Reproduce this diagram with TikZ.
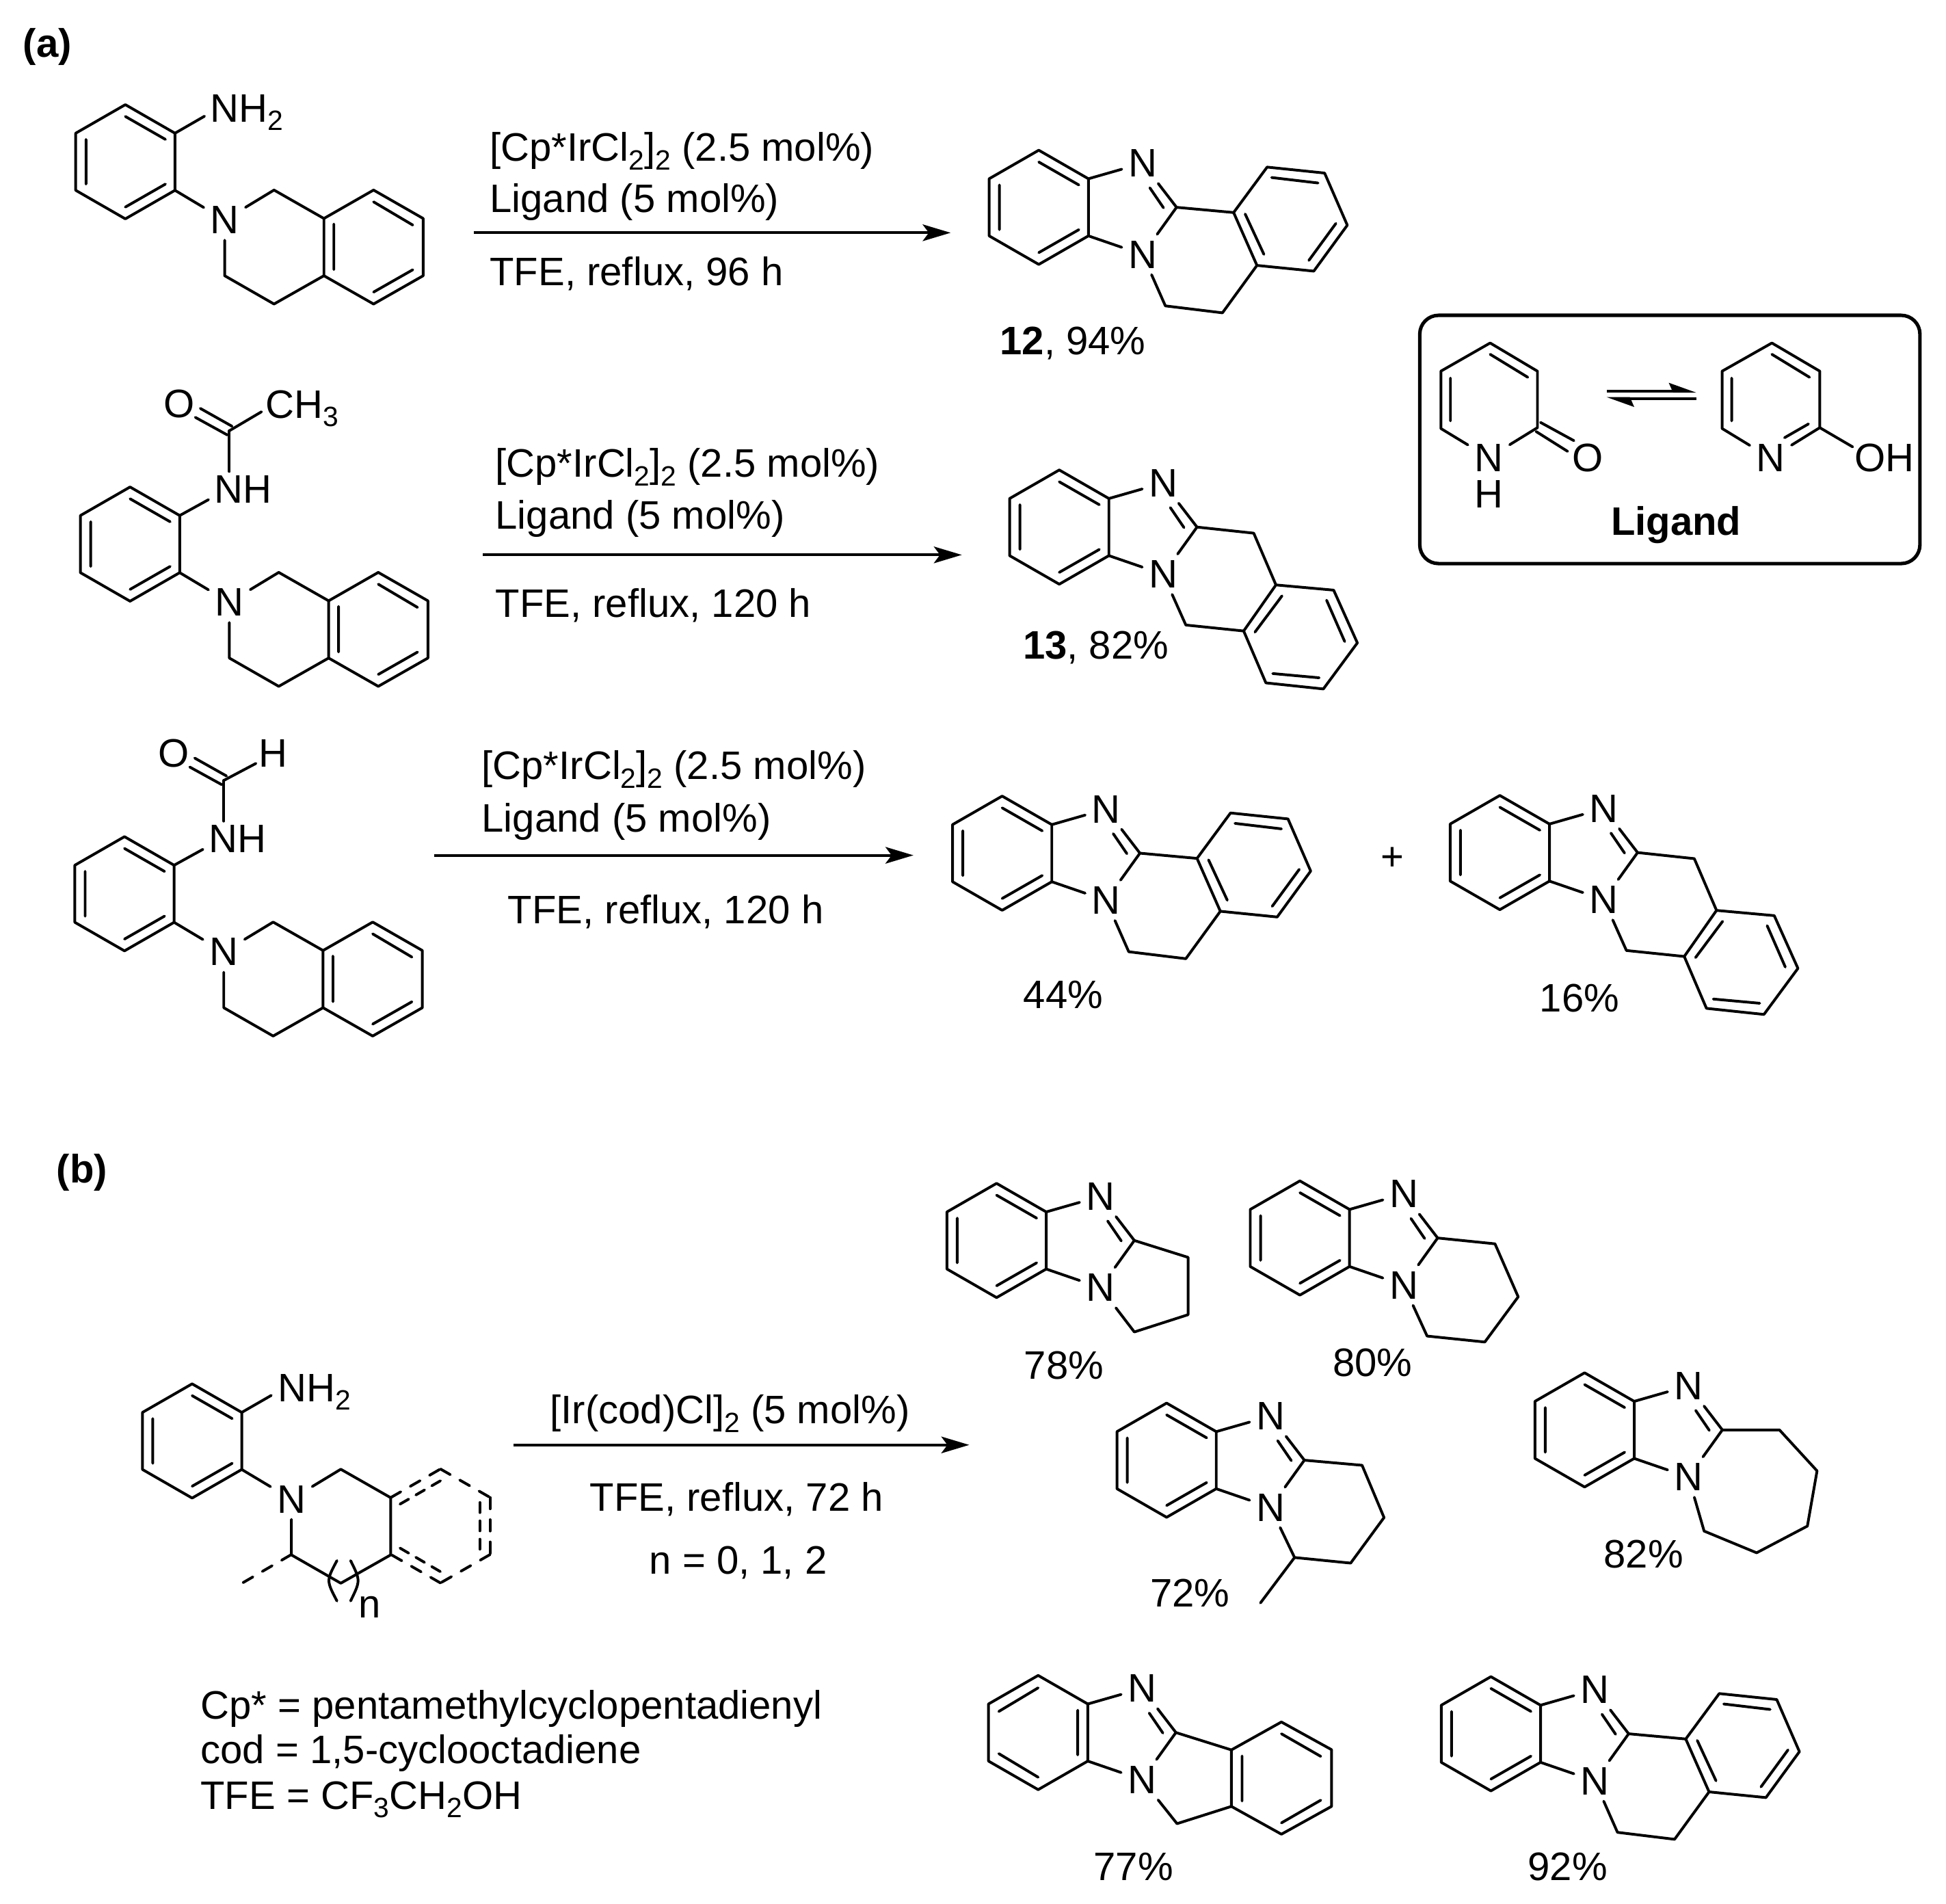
\documentclass[tikz,border=0pt]{standalone}
\usepackage{fontspec}
\setmainfont{Liberation Sans}
\usetikzlibrary{arrows.meta}
\tikzset{>={Stealth[length=6.4pt,width=3.8pt,inset=1.4pt]}}
\tikzset{
	bond/.style={line width=.62pt,line cap=round,line join=round},
	dashbond/.style={bond,dash pattern=on 2.6pt off 2.5pt},
	dashinner/.style={bond,dash pattern=on 2.3pt off 1.9pt},
	atom/.style={font=\fontsize{9.1}{11}\selectfont,inner sep=1.5pt,outer sep=0pt},
	txt/.style={font=\fontsize{9.1}{11}\selectfont,inner sep=0pt,anchor=base west},
	rxn/.style={line width=.65pt,->},
	eqm/.style={line width=.6pt,-{Stealth[length=5.4pt,width=3.8pt,inset=.8pt,left]}},
	ligbox/.style={line width=.8pt,rounded corners=4.3pt},
}
\newcommand{\subs}[1]{\raisebox{-1.9pt}{\fontsize{6.4}{7}\selectfont #1}}
% benzene ring, drawn round the origin of a scope
\newcommand{\benzoring}{\draw[bond] (0,-46) -- (40,-23) -- (40,23) -- (0,46) -- (-40,23) -- (-40,-23) -- cycle;}
\newcommand{\benzodbl}{\draw[bond] (-31.7,-18) -- (-31.7,18) (0,-36.5) -- (32.3,-18) (0,36.5) -- (32.3,18);}
\newcommand{\benzodblalt}{\draw[bond] (31.9,-18) -- (31.9,18) (0,-36) -- (-31.7,-17) (0,36) -- (-31.7,17);}
% benzimidazole: #1 inner bonds, #2 name, #3 centre of the benzene ring
\newcommand{\benzimcore}[3][\benzodbl]{
	\begin{scope}[shift={(#3)}]
		\benzoring
		#1
		\coordinate (#2ur) at (40,-23);
		\coordinate (#2lr) at (40,23);
		\coordinate (#2c) at (111,0);
		\node[atom] (#2na) at (83.7,-35.5) {N};
		\node[atom] (#2nb) at (83.7,38) {N};
		\draw[bond] (#2ur) -- (#2na);
		\draw[bond] (#2lr) -- (#2nb);
		\draw[bond] (#2na) -- (#2c) -- (#2nb);
		\draw[bond] (89.5,-15.7) -- (100.5,.4);
	\end{scope}
}
% fused dihydroisoquinoline, as in 12
\newcommand{\fusedaryl}[1]{
	\begin{scope}[shift={(#1c)}]
		\draw[bond] (#1c) -- (46,4.2) -- (73,-32.4) -- (119.3,-27.6) -- (137.6,14.4) -- (110.6,51.4) -- (64.8,46.8) -- (46,4.2);
		\draw[bond] (64.8,46.8) -- (37,85) -- (-9,79.4) -- (#1nb);
		\draw[bond] (76.6,-24) -- (114,-19.6) (128.4,13) -- (106.6,42.8) (55.3,5.4) -- (70.4,37.9);
	\end{scope}
}
% fused isomer with two CH2 groups, as in 13
\newcommand{\fusedbenzyl}[1]{
	\begin{scope}[shift={(#1c)}]
		\draw[bond] (#1c) -- (45.7,4.9) -- (63.6,46.6) -- (110.1,50.8) -- (129.2,93.3) -- (101.8,130.4) -- (55.5,125.5) -- (37.6,83.7) -- (63.6,46.6);
		\draw[bond] (37.6,83.7) -- (-9,78.9) -- (#1nb);
		\draw[bond] (68.5,55.4) -- (46.7,84.6) (104.4,58.9) -- (119,92.2) (98.4,121.4) -- (61,118);
	\end{scope}
}
% aniline ring with the saturated N ring
\newcommand{\substrate}[2]{
	\begin{scope}[shift={(#2)}]
		\benzoring
		\benzodbl
		\coordinate (#1ur) at (40,-23);
		\coordinate (#1lr) at (40,23);
		\coordinate (#1a) at (119.8,22.8);
		\coordinate (#1b) at (160,45.7);
		\coordinate (#1c) at (160,91.8);
		\coordinate (#1d) at (119.8,114.6);
		\coordinate (#1e) at (80,91.8);
		\node[atom] (#1n) at (80,46.9) {N};
		\draw[bond] (#1lr) -- (#1n);
		\draw[bond] (#1n) -- (#1a) -- (#1b) -- (#1c) -- (#1d) -- (#1e) -- (#1n);
	\end{scope}
}
\newcommand{\subarene}[2]{
	\begin{scope}[shift={(#2)}]
		\draw[bond] (#1b) -- (200,22.8) -- (240,45.7) -- (240,91.8) -- (200,114.6) -- (#1c);
		\draw[bond] (168,50.2) -- (168,86.9) (200,32.3) -- (231.6,51) (200,105) -- (231.6,87);
	\end{scope}
}
% amide on the free ortho position
\newcommand{\subacyl}[2]{
	\begin{scope}[shift={(#2)}]
		\coordinate (#1co) at (80,-91.3);
		\node[atom,inner sep=1pt] (#1nh) at (91,-44) {NH};
		\node[atom] (#1o) at (39.8,-113) {O};
		\draw[bond] (#1ur) -- ++(23.2,-12.8);
		\draw[bond] (#1co) -- (#1co |- #1nh.north);
		\draw[bond] (82.2,-94.9) -- (56.6,-109.3) (78.4,-87.9) -- (52.6,-102.1);
	\end{scope}
}

\begin{document}
\begin{tikzpicture}[x=.01cm,y=-.01cm]
	\useasboundingbox (0,0) rectangle (1568,1533.8);

	\node[txt] (lba) at (18,45.8) {\textbf{(a)}};
	\node[txt] (lbb) at (45,953) {\textbf{(b)}};

	% Row 1
	\substrate{sa}{101,130.3}
	\subarene{sa}{101,130.3}
	\draw[bond] (saur) -- ++(23.8,-13.7);
	\node[txt] (saamine) at (168.5,98.5) {NH\subs{2}};
	\draw[rxn] (381.8,187.5) -- (766,187.5);
	\node[txt] (racat) at (394,130) {[Cp*IrCl\subs{2}]\subs{2} (2.5 mol\%)};
	\node[txt] (ralig) at (394,171.3) {Ligand (5 mol\%)};
	\node[txt] (racond) at (394,229.8) {TFE, reflux, 96 h};
	\benzimcore{pa}{837,167}
	\fusedaryl{pa}
	\node[txt] (ya) at (805,285.9) {\textbf{12}, 94\%};

	% Row 2
	\substrate{sb}{104.8,438.3}
	\subarene{sb}{104.8,438.3}
	\subacyl{sb}{104.8,438.3}
	\draw[bond] (sbco) -- ++(25.9,-15.3);
	\node[txt] (sbme) at (213.3,336.9) {CH\subs{3}};
	\draw[rxn] (389,447) -- (775,447);
	\node[txt] (rbcat) at (398.5,384.5) {[Cp*IrCl\subs{2}]\subs{2} (2.5 mol\%)};
	\node[txt] (rblig) at (398.5,426) {Ligand (5 mol\%)};
	\node[txt] (rbcond) at (398.5,497) {TFE, reflux, 120 h};
	\benzimcore{pb}{853.5,424.6}
	\fusedbenzyl{pb}
	\node[txt] (yb) at (823.6,530.8) {\textbf{13}, 82\%};

	% Row 3
	\substrate{sc}{100.3,720}
	\subarene{sc}{100.3,720}
	\subacyl{sc}{100.3,720}
	\draw[bond] (scco) -- ++(25.9,-13.7);
	\node[atom] (sch) at (220.2,606.7) {H};
	\draw[rxn] (350,689) -- (736,689);
	\node[txt] (rccat) at (387.5,628) {[Cp*IrCl\subs{2}]\subs{2} (2.5 mol\%)};
	\node[txt] (rclig) at (387.5,670) {Ligand (5 mol\%)};
	\node[txt] (rccond) at (408.5,743.8) {TFE, reflux, 120 h};
	\benzimcore{pc}{807.5,687.3}
	\fusedaryl{pc}
	\node[txt] (yc) at (824,812.3) {44\%};
	\node[atom] (plus) at (1121.9,691.7) {+};
	\benzimcore{pd}{1208.5,686.8}
	\fusedbenzyl{pd}
	\node[txt] (yd) at (1240,815) {16\%};

	% Ligand box
	\draw[ligbox] (1144,254) rectangle (1547,454);
	\node[atom] (ln) at (1199.6,368.6) {N};
	\node[atom,inner sep=0pt] (lh) at (1199.6,398) {H};
	\node[atom] (lo) at (1279.4,368.6) {O};
	\coordinate (lt) at (1200.7,276.3);
	\coordinate (lur) at (1238.8,299);
	\coordinate (llr) at (1238.8,344.5);
	\coordinate (lll) at (1161,345.2);
	\coordinate (lul) at (1161,299);
	\draw[bond] (ln) -- (lll) -- (lul) -- (lt) -- (lur) -- (llr) -- (ln);
	\draw[bond] (1200.7,285.4) -- (1231,303.9) (1168.7,304.6) -- (1168.7,339);
	\draw[bond] (1241.3,340.3) -- (1268.2,355) (1237.7,347.6) -- (1263.1,363.6);
	\draw[eqm] (1294.6,315.2) -- (1366.8,315.2);
	\draw[eqm] (1366.8,321) -- (1294.6,321);
	\node[atom] (rn) at (1426.7,369) {N};
	\node[atom] (roh) at (1518.5,369) {OH};
	\coordinate (rt) at (1427.7,276.3);
	\coordinate (rur) at (1466.3,299);
	\coordinate (rlr) at (1466.3,344.5);
	\coordinate (rll) at (1387.6,345.2);
	\coordinate (rul) at (1387.6,299);
	\draw[bond] (rn) -- (rll) -- (rul) -- (rt) -- (rur) -- (rlr) -- (rn);
	\draw[bond] (1427.7,285.4) -- (1458,303.9) (1395.3,304.6) -- (1395.3,339);
	\draw[bond] (1437.9,352.6) -- (1457.2,341.5);
	\draw[bond] (rlr) -- ++(26.5,15.5);
	\node[txt,anchor=base] (lname) at (1350.5,431) {\textbf{Ligand}};

	% Part b
	\substrate{sd}{154.8,1160.8}
	\draw[bond] (sdur) -- ++(23.8,-13.7);
	\node[txt] (sdamine) at (223.4,1129) {NH\subs{2}};
	\begin{scope}[shift={(154.8,1160.8)}]
		\draw[dashbond] (160.2,45.5) -- (200.1,22.6);
		\draw[dashbond] (200.1,22.6) -- (240.1,45.5);
		\draw[dashbond] (240.1,45.5) -- (240.1,91.5);
		\draw[dashbond] (240.1,91.5) -- (200.1,114.4);
		\draw[dashbond] (200.1,114.4) -- (160.2,91.5);
		\draw[dashinner] (167.5,50.9) -- (200.6,31.8);
		\draw[dashinner] (231.8,49.6) -- (231.8,87.2);
		\draw[dashinner] (167.5,86.3) -- (200.6,105.6);
		\draw[dashbond] (80,91.5) -- (39.9,114.8);
		\draw[bond] (116.7,96.4) .. controls (108.1,112.5) .. (116.7,128.9);
		\draw[bond] (127.7,96.4) .. controls (135.7,112.5) .. (127.7,128.9);
	\end{scope}
	\node[txt] (sdn) at (288,1303.1) {n};
	\draw[rxn] (414,1164) -- (781,1164);
	\node[txt] (rdcat) at (442.5,1147) {[Ir(cod)Cl]\subs{2} (5 mol\%)};
	\node[txt] (rdcond) at (474.5,1217.5) {TFE, reflux, 72 h};
	\node[txt] (rdn) at (522.5,1268) {n = 0, 1, 2};
	\node[txt] (abba) at (161,1385) {Cp* = pentamethylcyclopentadienyl};
	\node[txt] (abbb) at (161,1420.5) {cod = 1,5-cyclooctadiene};
	\node[txt] (abbc) at (161,1457.5) {TFE = CF\subs{3}CH\subs{2}OH};

	% Products of part b
	\benzimcore{pe}{803,999.3}
	\begin{scope}[shift={(pec)}]
		\draw[bond] (pec) -- (43.3,13.6) -- (43.3,59.8) -- (0,73.7) -- (penb);
	\end{scope}
	\node[txt] (ye) at (824.5,1110.7) {78\%};
	\benzimcore{pf}{1047.4,997.3}
	\begin{scope}[shift={(pfc)}]
		\draw[bond] (pfc) -- (46.2,4.7) -- (64.9,47.4) -- (38,83.8) -- (-8.5,79) -- (pfnb);
	\end{scope}
	\node[txt] (yf) at (1073.2,1108.5) {80\%};
	\benzimcore{pg}{940,1176.3}
	\begin{scope}[shift={(pgc)}]
		\draw[bond] (pgc) -- (46.5,4.1) -- (64.2,46.2) -- (37.3,82.9) -- (-7.9,78.4) -- (pgnb);
		\draw[bond] (-7.9,78.4) -- (-35.4,115);
	\end{scope}
	\node[txt] (yg) at (926,1294.5) {72\%};
	\benzimcore{ph}{1276.8,1151.9}
	\begin{scope}[shift={(phc)}]
		\draw[bond] (phc) -- (46,0) -- (76.3,33) -- (68.5,77.5) -- (27.6,99) -- (-14.7,81.5) -- (phnb);
	\end{scope}
	\node[txt] (yh) at (1291.5,1262.8) {82\%};
	\benzimcore[\benzodblalt]{pi}{836.5,1395.7}
	\begin{scope}[shift={(836.5,1395.7)}]
		\draw[bond] (pic) -- (155.7,14) -- (196,-8.5) -- (236.4,13.8) -- (236.4,59.5) -- (196,81.9) -- (155.7,59.5) -- (155.7,14);
		\draw[bond] (155.7,59.5) -- (111.9,73.4) -- (pinb);
		\draw[bond] (164.3,18.9) -- (164.3,55.1) (196,1) -- (227.7,19.2) (196,72.8) -- (227.7,54.5);
	\end{scope}
	\node[txt] (yi) at (880.5,1514.6) {77\%};
	\benzimcore{pj}{1201.3,1396.7}
	\fusedaryl{pj}
	\node[txt] (yj) at (1230.5,1515) {92\%};
\end{tikzpicture}
\end{document}
